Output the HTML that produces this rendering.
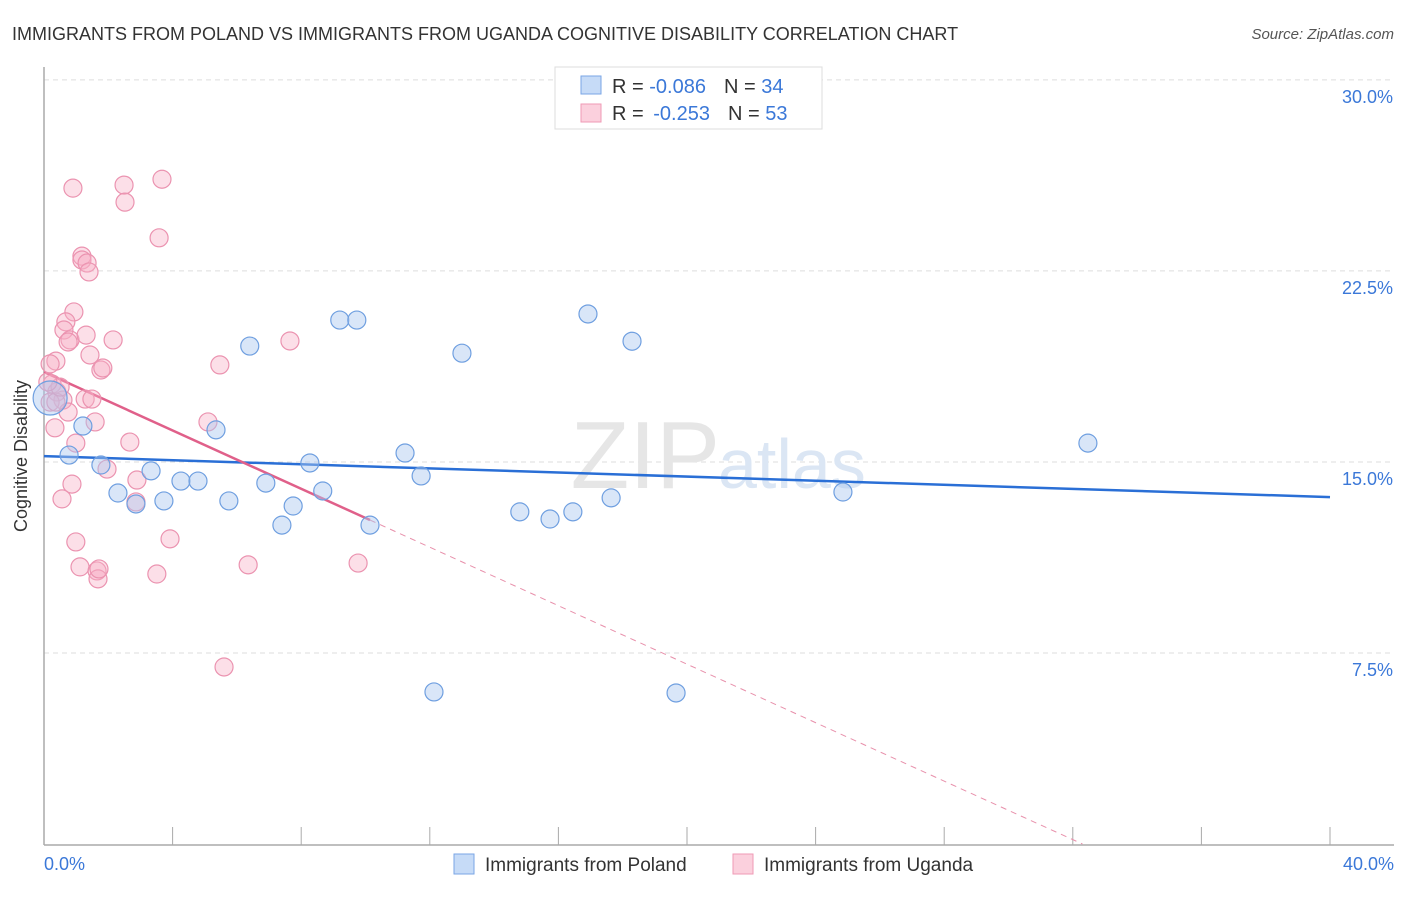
<!DOCTYPE html>
<html><head><meta charset="utf-8"><style>
body{margin:0;background:#fff;font-family:"Liberation Sans",sans-serif;}
svg text{font-family:"Liberation Sans",sans-serif;}
</style></head><body>
<svg id="chart" width="1406" height="892" xmlns="http://www.w3.org/2000/svg">
<text x="12" y="40" font-size="18" fill="#333">IMMIGRANTS FROM POLAND VS IMMIGRANTS FROM UGANDA COGNITIVE DISABILITY CORRELATION CHART</text>
<text x="1394" y="39" font-size="15" fill="#555" font-style="italic" text-anchor="end">Source: ZipAtlas.com</text>
<g id="grid"></g>
<text x="720" y="488" font-size="96" fill="#e6e6e6" text-anchor="end" font-family="Liberation Serif">ZIP</text>
<text x="718" y="488" font-size="70" fill="#dbe6f4">atlas</text>
<g id="trends"></g>
<g id="points"></g>
<text x="27" y="456" font-size="18" fill="#333" text-anchor="middle" transform="rotate(-90 27 456)">Cognitive Disability</text>
<text x="44" y="870" font-size="18" fill="#3b78d8">0.0%</text>
<text x="1394" y="870" font-size="18" fill="#3b78d8" text-anchor="end">40.0%</text>
<g>
<rect x="555" y="67" width="267" height="62" fill="#fff" stroke="#ddd"/>
<rect x="581" y="76" width="20" height="18" fill="#c6dbf7" stroke="#7aa6e6"/>
<rect x="581" y="104" width="20" height="18" fill="#fbd0dd" stroke="#ef9ab5"/>
<text x="612" y="93" font-size="20" fill="#333">R = <tspan fill="#3b78d8">-0.086</tspan><tspan dx="18">N = </tspan><tspan fill="#3b78d8">34</tspan></text>
<text x="612" y="120" font-size="20" fill="#333">R = <tspan dx="4" fill="#3b78d8">-0.253</tspan><tspan dx="18">N = </tspan><tspan fill="#3b78d8">53</tspan></text>
</g>
<g>
<rect x="454" y="854" width="20" height="20" fill="#c6dbf7" stroke="#7aa6e6"/>
<text x="485" y="871" font-size="19" fill="#333">Immigrants from Poland</text>
<rect x="733" y="854" width="20" height="20" fill="#fbd0dd" stroke="#ef9ab5"/>
<text x="764" y="871" font-size="19" fill="#333">Immigrants from Uganda</text>
</g>
</svg>
<script>
const yTicks=[7.5,15,22.5,30];
const yTickLabels=["7.5%","15.0%","22.5%","30.0%"];
const polandX=[0.19,0.78,1.21,1.77,2.3,2.86,3.33,3.73,4.26,4.79,5.35,5.75,6.4,6.9,7.4,7.75,8.27,8.67,9.2,9.73,10.14,11.23,11.73,12.13,13.0,14.8,15.74,16.45,16.92,17.64,18.29,19.66,24.85,32.47];
const polandY=[17.51,15.27,16.41,14.88,13.78,13.35,14.65,13.47,14.25,14.25,16.26,13.47,19.55,14.17,12.52,13.27,14.96,13.86,20.57,20.57,12.52,15.35,14.45,5.97,19.27,13.04,12.76,13.04,20.81,13.59,19.74,5.93,13.82,15.74];
const ugandaX=[0.9,2.49,2.52,3.67,3.58,1.18,1.18,1.34,1.4,0.93,0.68,0.62,0.81,0.75,1.31,2.15,1.43,1.77,1.83,0.37,0.19,5.47,7.65,0.25,0.4,0.59,0.19,1.28,1.49,1.59,0.75,5.1,0.34,0.99,2.67,1.96,0.87,0.56,2.89,2.86,3.92,0.99,1.12,1.65,1.68,1.71,3.51,6.35,9.77,5.6,0.37,0.5,0.12];
const ugandaY=[25.75,25.87,25.2,26.1,23.8,23.08,22.93,22.81,22.46,20.89,20.5,20.18,19.79,19.71,19.98,19.79,19.2,18.61,18.69,18.96,18.85,18.81,19.75,18.06,17.75,17.43,17.35,17.47,17.47,16.57,16.96,16.57,16.34,15.74,15.78,14.72,14.13,13.55,14.29,13.43,11.98,11.86,10.88,10.72,10.41,10.8,10.6,10.96,11.03,6.95,17.35,17.94,18.14];
const polandTrend=[[0,15.23],[40,13.62]];
const ugandaTrendSolid=[[0,18.53],[10.14,12.72]];
const ugandaTrendDash=[[10.14,12.72],[32.3,0]];
const NS="http://www.w3.org/2000/svg";
const sx=v=>44+v*32.15, sy=v=>844-v*25.47;
const grid=document.getElementById('grid');
function mk(tag,attrs,parent){const e=document.createElementNS(NS,tag);for(const k in attrs)e.setAttribute(k,attrs[k]);parent.appendChild(e);return e;}
yTicks.forEach((t,i)=>{
 const l=mk('line',{x1:44,x2:1394,y1:sy(t),y2:sy(t),stroke:'#ddd','stroke-dasharray':'5,4'},grid);
 
 
 const tx=mk('text',{x:1393,y:sy(t)+23,'font-size':18,fill:'#3b78d8','text-anchor':'end'},grid);
 tx.textContent=yTickLabels[i];
 
 
});
const ya=mk('line',{x1:44,x2:44,y1:67,y2:845,stroke:'#aaa','stroke-width':1.5},grid);


const xa=mk('line',{x1:44,x2:1394,y1:845,y2:845,stroke:'#aaa','stroke-width':1.5},grid);


for(let i=1;i<=10;i++){const t=mk('line',{x1:sx(i*4)-(i*4===40?0:0),x2:sx(i*4),y1:827,y2:845,stroke:'#aaa'},grid);
 
 }
const pts=document.getElementById('points');
ugandaX.forEach((x,i)=>{const c=mk('circle',{cx:sx(x),cy:sy(ugandaY[i]),r:9,fill:'rgba(247,175,198,0.4)',stroke:'#eb93b0','stroke-width':1.2},pts);
 
 });
polandX.forEach((x,i)=>{const c=mk('circle',{cx:sx(x),cy:sy(polandY[i]),r:i===0?17:9,fill:'rgba(170,200,240,0.45)',stroke:'#6f9fe0','stroke-width':1.2},pts);
 
 });
const tr=document.getElementById('trends');
function seg(p,st,dash,w,name){const l=mk('line',{x1:sx(p[0][0]),y1:sy(p[0][1]),x2:sx(p[1][0]),y2:sy(p[1][1]),stroke:st,'stroke-width':w},tr);if(dash)l.setAttribute('stroke-dasharray',dash);
 
 }
seg(ugandaTrendDash,'#e890ab','6,5',1,'uganda-trend-extension');
seg(polandTrend,'#2a6fd6',null,2.5,'poland-trend-line');
seg(ugandaTrendSolid,'#e0608a',null,2.5,'uganda-trend-line');
</script>
</body></html>
